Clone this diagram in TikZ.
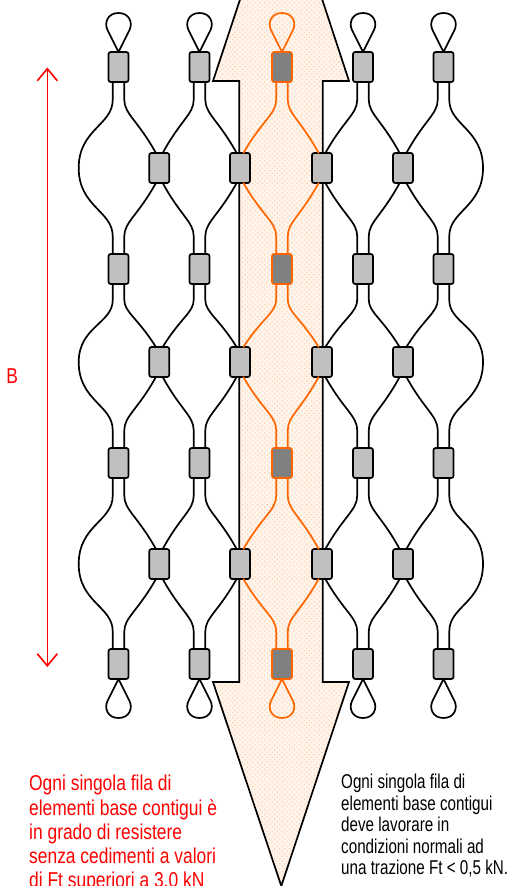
\documentclass[tikz,border=0pt]{standalone}
\usepackage{fontspec}
\usetikzlibrary{arrows.meta,patterns.meta,calc}
\newfontfamily\redface[FakeStretch=.81]{Liberation Sans}
\newfontfamily\blackface[FakeStretch=.76]{Liberation Sans}
\definecolor{wireorange}{HTML}{FF6600}
\definecolor{dotorange}{HTML}{FFD3B0}
\definecolor{tintorange}{HTML}{FFF5EC}
\definecolor{plate}{HTML}{C0C0C0}
\definecolor{darkplate}{HTML}{808080}
\tikzset{
  plate/.style={draw=black,fill=plate,line width=1.7pt,rounded corners=2.2pt,minimum width=20pt,minimum height=30pt,inner sep=0pt,outer sep=0pt},
  darkplate/.style={plate,draw=wireorange,fill=darkplate},
  strand/.style={line width=1.7pt,line cap=round,line join=round},
  arrowbody/.style={line width=1.7pt,line join=miter},
  measure/.style={draw=red,line width=1.6pt,{Straight Barb[length=12pt,width=20pt,line width=1.6pt]}-{Straight Barb[length=12pt,width=20pt,line width=1.6pt]}},
  notered/.style={text=red,align=left,inner sep=0pt,anchor=north west,font=\redface\fontsize{21.5pt}{24.3pt}\selectfont},
  noteblack/.style={text=black,align=left,inner sep=0pt,anchor=north west,font=\blackface\fontsize{20pt}{21.5pt}\selectfont}
}
% wide pin of first node to narrow pin of second
\newcommand{\wirepath}[3]{%
  \draw[strand,draw=#3] let \p1=(#1), \p2=(#2), \n1={\x2-\x1}, \n2={\y2-\y1} in
    (\p1) -- (\x1,{\y1+.25*\n2}) .. controls (\x1,{\y1+.45*\n2}) and ({\x1+.42*\n1},{\y1+.535*\n2}) .. (\p2);}
\newcommand{\bulgepath}[2]{%
  \draw[strand] let \p1=(#1), \p2=(#2), \n1={\x2-\x1}, \n2={\y2-\y1} in
    (\p1) -- (\x1,{\y1+.21*\n2}) .. controls (\x1,{\y1+.5*\n2}) and (\x2,{\y1+.55*\n2}) .. (\p2);}
% #1 node anchor, #2 +1 up / -1 down, #3 colour
\newcommand{\looppath}[3]{%
  \draw[strand,draw=#3] let \p1=(#1), \n1={#2*1pt} in
    (\p1) -- ({\x1-11pt},{\y1+22*\n1}) .. controls ({\x1-14.5pt},{\y1+29*\n1}) and ({\x1-11pt},{\y1+39*\n1}) .. (\x1,{\y1+39*\n1})
    .. controls ({\x1+11pt},{\y1+39*\n1}) and ({\x1+14.5pt},{\y1+29*\n1}) .. ({\x1+11pt},{\y1+22*\n1}) -- cycle;}
\begin{document}
\begin{tikzpicture}[x=1pt,y=-1pt]
\useasboundingbox (0,0) rectangle (508,886);
\clip (0,0) rectangle (508,886);
% arrow
\def\arrowoutline{(281.3,-125) -- (349,81) -- (322.7,81) -- (322.7,682) -- (349,682) -- (281.3,886) -- (213,682) -- (239.3,682) -- (239.3,81) -- (213,81) -- cycle}
\fill[tintorange] \arrowoutline;
\fill[pattern={Dots[distance=3.5pt,radius=.9pt,angle=45]},pattern color=dotorange] \arrowoutline;
\draw[arrowbody] \arrowoutline;
% plates
\foreach \r/\y in {1/67,3/269,5/463,7/664}{
  \foreach \c/\x in {A/118.5,C/199.5,G/363,I/443.5}{
    \node[plate] (\c\r) at (\x,\y) {};
  }
  \node[darkplate] (E\r) at (282,\y) {};
}
\foreach \r/\y in {2/168,4/362,6/564}{
  \foreach \c/\x in {B/159.3,D/240,F/322,H/403}{
    \node[plate] (\c\r) at (\x,\y) {};
  }
  \coordinate (L\r) at (78.7,\y);
  \coordinate (R\r) at (483,\y);
}
% strands
\foreach \w/\n/\s/\col in {A/B/1/black,C/B/-1/black,C/D/1/black,E/D/-1/wireorange,E/F/1/wireorange,G/F/-1/black,G/H/1/black,I/H/-1/black}{
  \foreach \r/\q/\a/\b in {1/2/south/north,3/2/north/south,3/4/south/north,5/4/north/south,5/6/south/north,7/6/north/south}{
    \coordinate (wp) at ([xshift={\s*5.8pt}]\w\r.\a);
    \coordinate (np) at ([xshift={-\s*3.4pt}]\n\q.\b);
    \wirepath{wp}{np}{\col}
  }
}
\foreach \w/\e/\s in {A/L/-1,I/R/1}{
  \foreach \r/\q/\a in {1/2/south,3/2/north,3/4/south,5/4/north,5/6/south,7/6/north}{
    \coordinate (wp) at ([xshift={\s*5.8pt}]\w\r.\a);
    \bulgepath{wp}{\e\q}
  }
}
% loops
\foreach \c/\col in {A/black,C/black,E/wireorange,G/black,I/black}{
  \looppath{\c1.north}{1}{\col}
  \looppath{\c7.south}{-1}{\col}
}
% measure
\coordinate (mt) at (47.3,67.5);
\coordinate (mb) at (47.3,667);
\draw[measure] (mt) -- (mb);
\node[text=red,inner sep=0pt,font=\redface\fontsize{21.5pt}{24pt}\selectfont] (blabel) at (12.3,376) {B};
% notes
\node[notered] (redtext) at (29,775) {Ogni singola fila di\\elementi base contigui è\\in grado di resistere\\senza cedimenti a valori\\di Ft superiori a 3,0 kN};
\node[noteblack] (blacktext) at (341,774) {Ogni singola fila di\\elementi base contigui\\deve lavorare in\\condizioni normali ad\\una trazione Ft < 0,5 kN.};
\end{tikzpicture}
\end{document}
